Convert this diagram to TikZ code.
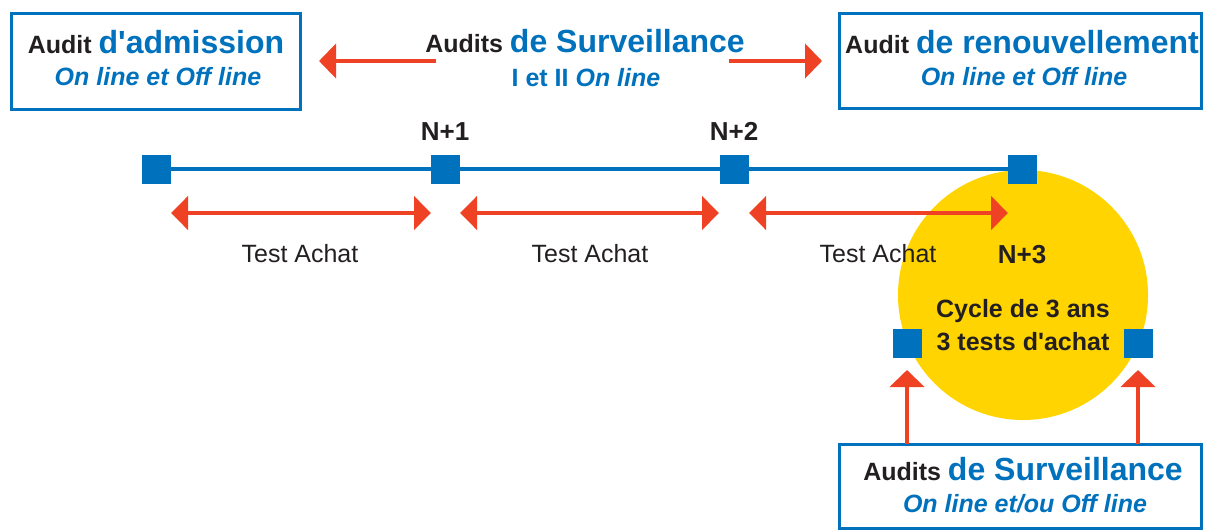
\documentclass[tikz,border=0pt]{standalone}
\usepackage{fontspec}
\setmainfont{Liberation Sans}
\usetikzlibrary{arrows.meta}
\definecolor{cblue}{RGB}{0,113,188}
\definecolor{cred}{RGB}{239,65,35}
\definecolor{cyel}{RGB}{255,212,0}
\definecolor{ctxt}{RGB}{35,31,32}
\newcommand{\fsA}{\fontsize{25}{30}\selectfont\bfseries}
\newcommand{\fsB}{\fontsize{32}{38}\selectfont\bfseries}
\newcommand{\fsR}{\fontsize{25}{30}\selectfont}
\begin{document}
\begin{tikzpicture}[x=1pt,y=-1pt,
  frame/.style={draw=cblue,line width=3pt,inner sep=0pt,fill=none},
  txt/.style={inner sep=0pt,anchor=base,text=ctxt},
  sq/.style={fill=cblue,inner sep=0pt,minimum size=29pt,draw=none},
  redarr/.style={draw=cred,line width=4.5pt,-{Triangle[width=34pt,length=17pt]}},
  dblarr/.style={draw=cred,line width=4.5pt,{Triangle[width=33pt,length=17pt]}-{Triangle[width=33pt,length=17pt]}},
  tline/.style={draw=cblue,line width=4pt}]
\useasboundingbox (0,0) rectangle (1206,530);
% circle
\node[circle,fill=cyel,inner sep=0pt,minimum size=250pt] (cyc) at (1023,295) {};
% boxes
\node[frame,minimum width=289pt,minimum height=96pt] (box1) at (156,61) {};
\node[frame,minimum width=361.5pt,minimum height=95pt] (box3) at (1020.25,60.5) {};
\node[frame,minimum width=361.5pt,minimum height=84pt] (box4) at (1020.25,486) {};
% texts in boxes
\node[txt] (t1a) at (156,53) {\fsA Audit {\fsB\color{cblue}d\textquotesingle admission}};
\node[txt,text=cblue] (t1b) at (158,85) {\fsA\itshape On line et Off line};
\node[txt] (tm1) at (585,52) {\fsA Audits {\fsB\color{cblue}de Surveillance}};
\node[txt,text=cblue] (tm2) at (586,86) {\fsA I et II {\itshape On line}};
\node[txt] (t3a) at (1022,53) {\fsA Audit {\fsB\color{cblue}de renouvellement}};
\node[txt,text=cblue] (t3b) at (1024,85) {\fsA\itshape On line et Off line};
\node[txt] (t4a) at (1023,480) {\fsA Audits {\fsB\color{cblue}de Surveillance}};
\node[txt,text=cblue] (t4b) at (1025,512) {\fsA\itshape On line et/ou Off line};
% top arrows
\coordinate (la0) at (436,61);
\coordinate (la1) at (319,61);
\coordinate (ra0) at (729,61);
\coordinate (ra1) at (822,61);
\draw[redarr] (la0) -- (la1);
\draw[redarr] (ra0) -- (ra1);
% timeline
\node[sq] (s0) at (156.5,169) {};
\node[sq] (s1) at (445.5,169) {};
\node[sq] (s2) at (734.5,169) {};
\node[sq] (s3) at (1022.5,169) {};
\draw[tline] (s0) -- (s1) -- (s2) -- (s3);
\node[txt] (n1) at (445,140) {\fontsize{26}{30}\selectfont\bfseries N+1};
\node[txt] (n2) at (734,140) {\fontsize{26}{30}\selectfont\bfseries N+2};
\node[txt] (n3) at (1022,263) {\fontsize{26}{30}\selectfont\bfseries N+3};
% double arrows
\coordinate (d1a) at (171,213);
\coordinate (d1b) at (431,213);
\coordinate (d2a) at (460,213);
\coordinate (d2b) at (719,213);
\coordinate (d3a) at (749,213);
\coordinate (d3b) at (1008,213);
\draw[dblarr] (d1a) -- (d1b);
\draw[dblarr] (d2a) -- (d2b);
\draw[dblarr] (d3a) -- (d3b);
\node[txt] (ta1) at (300,262) {\fsR Test Achat};
\node[txt] (ta2) at (590,262) {\fsR Test Achat};
\node[txt] (ta3) at (878,262) {\fsR Test Achat};
% cycle text
\node[txt] (cy1) at (1023,317) {\fsA Cycle de 3 ans};
\node[txt] (cy2) at (1023,350) {\fsA 3 tests d\textquotesingle achat};
% side squares
\node[sq] (q1) at (907.5,343.5) {};
\node[sq] (q2) at (1138.5,343.5) {};
% up arrows
\coordinate (u1) at (907,444);
\coordinate (u1t) at (907,370);
\coordinate (u2) at (1138,444);
\coordinate (u2t) at (1138,370);
\draw[redarr] (u1) -- (u1t);
\draw[redarr] (u2) -- (u2t);
\end{tikzpicture}
\end{document}
